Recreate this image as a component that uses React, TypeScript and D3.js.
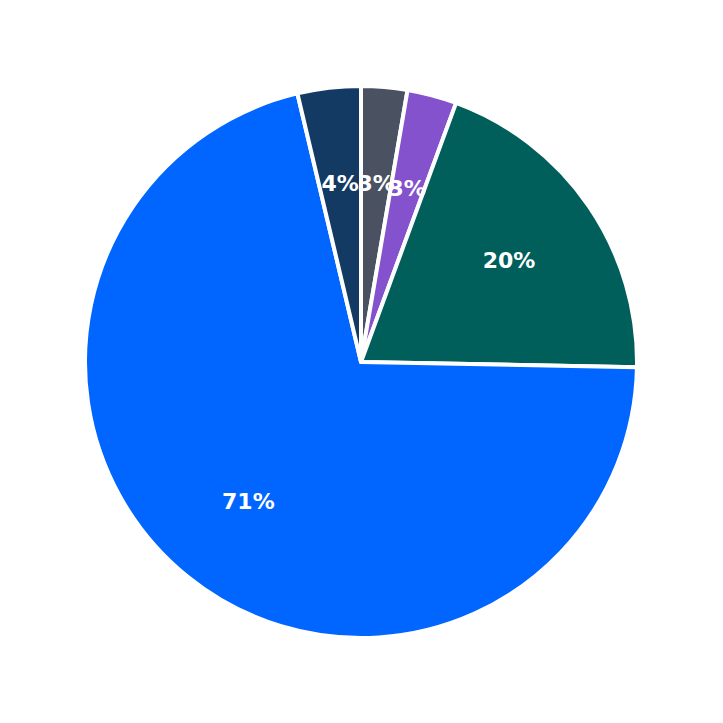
import React, { useEffect } from 'react';
import * as d3 from 'd3';

// slices clockwise from 12 o'clock
const categories = ['Gray', 'Purple', 'Teal', 'Blue', 'Navy'];
const values = [2.7, 2.9, 19.7, 71.0, 3.7];
const colors = ['#4a5261', '#8452cc', '#005f5b', '#0066ff', '#133a63'];

interface Slice {
  name: string;
  value: number;
  color: string;
}

const slices: Slice[] = categories.map((name, i) => ({ name, value: values[i], color: colors[i] }));

export default function App() {
  useEffect(() => {
    document.body.style.margin = '0';
  }, []);

  const size = 723;
  const cx = 361;
  const cy = 362;
  const radius = 276;
  const total = d3.sum(values);

  const pie = d3.pie<Slice>().value(d => d.value).sort(null).startAngle(0).endAngle(2 * Math.PI);
  const arcs = pie(slices);
  const arc = d3.arc<d3.PieArcDatum<Slice>>().innerRadius(0).outerRadius(radius);
  const labelArc = d3.arc<d3.PieArcDatum<Slice>>().innerRadius(radius * 0.65).outerRadius(radius * 0.65);

  return (
    <svg width={size} height={size} style={{ display: 'block', background: '#ffffff' }}>
      <g transform={`translate(${cx},${cy})`}>
        {arcs.map(a => (
          <path key={a.data.name} d={arc(a) || ''} fill={a.data.color} stroke="#ffffff" strokeWidth={4} strokeLinejoin="round" />
        ))}
        {arcs.map(a => {
          const [lx, ly] = labelArc.centroid(a);
          return (
            <text
              key={a.data.name + '-label'}
              x={lx}
              y={ly}
              textAnchor="middle"
              dominantBaseline="central"
              fill="#ffffff"
              fontFamily="DejaVu Sans, sans-serif"
              fontWeight="bold"
              fontSize={22}
            >
              {`${Math.round((a.data.value / total) * 100)}%`}
            </text>
          );
        })}
      </g>
    </svg>
  );
}
